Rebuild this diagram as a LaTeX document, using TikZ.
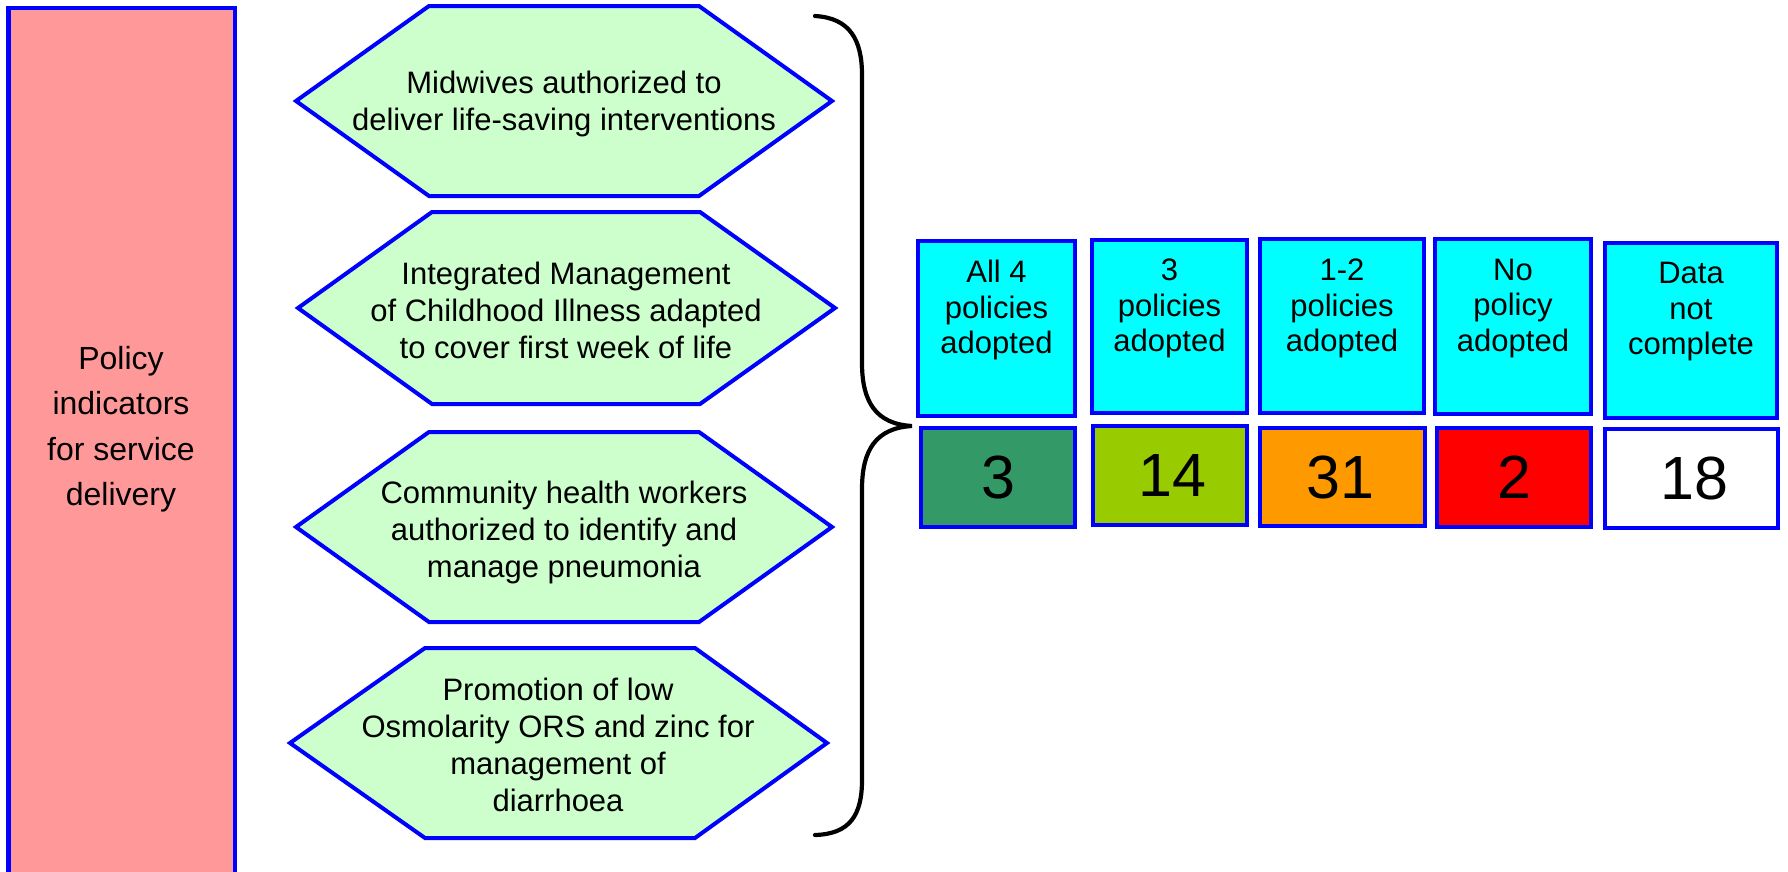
\documentclass[tikz,border=0pt]{standalone}
\usepackage{fontspec}
\setmainfont{Liberation Sans}
\definecolor{bordblue}{RGB}{0,0,255}
\definecolor{salmonfill}{RGB}{255,153,153}
\definecolor{hexgreen}{RGB}{204,255,204}
\definecolor{cyanfill}{RGB}{0,255,255}
\definecolor{seagreen}{RGB}{51,153,102}
\definecolor{limefill}{RGB}{153,204,0}
\definecolor{orangefill}{RGB}{255,153,0}
\definecolor{redfill}{RGB}{255,0,0}
\begin{document}
\begin{tikzpicture}[x=1bp,y=-1bp,
  polbox/.style={draw=bordblue, line width=4.5bp, fill=salmonfill, inner sep=0},
  poltext/.style={align=center, inner sep=0, font=\fontsize{32bp}{45.5bp}\selectfont},
  hexbox/.style={draw=bordblue, line width=4bp, fill=hexgreen, line join=miter},
  hextext/.style={align=center, inner sep=0, font=\fontsize{31bp}{37bp}\selectfont},
  catbox/.style={draw=bordblue, line width=4.5bp, fill=cyanfill, inner sep=0},
  cattext/.style={align=center, inner sep=0, font=\fontsize{31bp}{35.5bp}\selectfont},
  numbox/.style={draw=bordblue, line width=4.5bp, inner sep=0},
  numtext/.style={inner sep=0, font=\fontsize{61bp}{70bp}\selectfont},
  bracestyle/.style={draw=black, line width=4.2bp, line cap=round}]
\useasboundingbox (0,0) rectangle (1788,872);

% left column
\node[polbox, minimum width=226.5bp, minimum height=882bp] (pol) at (121.75,449) {};
\node[poltext] (polt) at (121,429) {Policy\\indicators\\for service\\delivery};

% hexagons
\draw[hexbox] (296,101) -- (429,6) -- (699,6) -- (832,101) -- (699,196) -- (429,196) -- cycle;
\node[hextext] (h1) at (564,104) {Midwives authorized to\\deliver life-saving interventions};

\draw[hexbox] (298,308) -- (432,212) -- (700,212) -- (835,308) -- (700,404) -- (432,404) -- cycle;
\node[hextext] (h2) at (566,310) {Integrated Management\\of Childhood Illness adapted\\to cover first week of life};

\draw[hexbox] (296,527) -- (429,432) -- (699,432) -- (832,527) -- (699,622) -- (429,622) -- cycle;
\node[hextext] (h3) at (564,532) {Community health workers\\authorized to identify and\\manage pneumonia};

\draw[hexbox] (290,743) -- (425,648) -- (695,648) -- (827,743) -- (695,838) -- (425,838) -- cycle;
\node[hextext] (h4) at (558,745) {Promotion of low\\Osmolarity ORS and zinc for\\management of\\diarrhoea};

% brace
\draw[bracestyle] (815,16) .. controls (850,18) and (862,40) .. (862,75)
  -- (862,363) .. controls (862,402) and (876,424) .. (912,426)
  .. controls (876,428) and (862,450) .. (862,489)
  -- (862,780) .. controls (862,815) and (850,834) .. (815,835);

% category boxes
\node[catbox, minimum width=157bp, minimum height=175bp] (t1) at (996.5,328.5) {};
\node[cattext] (t1t) at (996.5,310) {All 4\\policies\\adopted};
\node[catbox, minimum width=155bp, minimum height=173bp] (t2) at (1169.5,326.5) {};
\node[cattext] (t2t) at (1169.5,308.5) {3\\policies\\adopted};
\node[catbox, minimum width=164bp, minimum height=174bp] (t3) at (1342,326) {};
\node[cattext] (t3t) at (1342,308.5) {1-2\\policies\\adopted};
\node[catbox, minimum width=156bp, minimum height=175bp] (t4) at (1513,326.5) {};
\node[cattext] (t4t) at (1513,308.5) {No\\policy\\adopted};
\node[catbox, minimum width=172bp, minimum height=175bp] (t5) at (1691,330.5) {};
\node[cattext] (t5t) at (1691,312) {Data\\not\\complete};

% number boxes
\node[numbox, fill=seagreen, minimum width=154bp, minimum height=99bp] (n1) at (998,477.5) {};
\node[numtext] (n1t) at (998,477.5) {3};
\node[numbox, fill=limefill, minimum width=154bp, minimum height=99bp] (n2) at (1170,475.5) {};
\node[numtext] (n2t) at (1172,476) {14};
\node[numbox, fill=orangefill, minimum width=165bp, minimum height=98bp] (n3) at (1342.5,477) {};
\node[numtext] (n3t) at (1340,477) {31};
\node[numbox, fill=redfill, minimum width=154bp, minimum height=99bp] (n4) at (1514,477.5) {};
\node[numtext] (n4t) at (1514,477.5) {2};
\node[numbox, fill=white, minimum width=173bp, minimum height=99bp] (n5) at (1691.5,478.5) {};
\node[numtext] (n5t) at (1694,478) {18};
\end{tikzpicture}
\end{document}
